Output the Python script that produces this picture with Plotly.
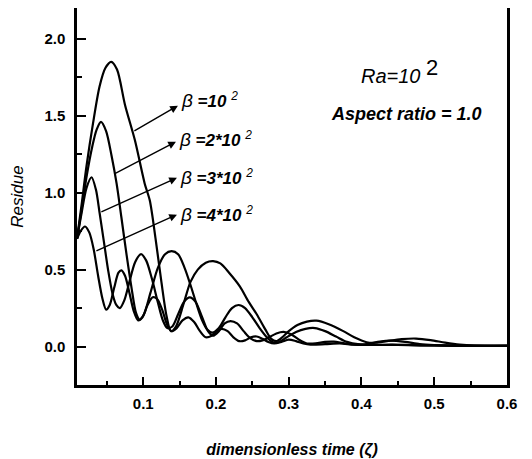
import plotly.graph_objects as go

# ---------------- data ----------------
x_b1 = [0.009, 0.015, 0.022, 0.031, 0.040, 0.048, 0.056, 0.064, 0.075, 0.0886, 0.102, 0.109,
        0.117, 0.125, 0.132, 0.138, 0.145, 0.155, 0.165, 0.175, 0.186, 0.196, 0.206, 0.218,
        0.233, 0.245, 0.256, 0.268, 0.276, 0.283, 0.291, 0.300, 0.312, 0.325, 0.338, 0.355,
        0.375, 0.390, 0.407, 0.420, 0.435, 0.455, 0.475, 0.495, 0.515, 0.535, 0.555, 0.580, 0.600]
y_b1 = [0.70, 0.91, 1.17, 1.45, 1.69, 1.81, 1.85, 1.80, 1.57, 1.34, 1.06, 0.95,
        0.70, 0.42, 0.20, 0.10, 0.13, 0.27, 0.42, 0.50, 0.545, 0.555, 0.54, 0.48,
        0.39, 0.29, 0.21, 0.11, 0.05, 0.035, 0.06, 0.10, 0.14, 0.162, 0.168, 0.145,
        0.10, 0.06, 0.028, 0.025, 0.035, 0.048, 0.052, 0.042, 0.025, 0.012, 0.006, 0.005, 0.006]

x_b2 = [0.009, 0.015, 0.022, 0.030, 0.036, 0.042, 0.049, 0.0565, 0.0634, 0.070, 0.077, 0.084,
        0.090, 0.095, 0.101, 0.110, 0.120, 0.130, 0.139, 0.148, 0.157, 0.165, 0.173, 0.181,
        0.188, 0.195, 0.204, 0.213, 0.222, 0.231, 0.240, 0.250, 0.260, 0.270, 0.279, 0.287,
        0.297, 0.310, 0.323, 0.336, 0.350, 0.365, 0.380, 0.395, 0.410, 0.425, 0.440, 0.460,
        0.480, 0.500, 0.550, 0.600]
y_b2 = [0.70, 0.88, 1.10, 1.30, 1.41, 1.46, 1.40, 1.24, 1.06, 0.84, 0.60, 0.38,
        0.22, 0.175, 0.21, 0.35, 0.51, 0.60, 0.62, 0.60, 0.51, 0.40, 0.28, 0.17,
        0.11, 0.09, 0.12, 0.19, 0.25, 0.27, 0.25, 0.19, 0.12, 0.06, 0.025, 0.03,
        0.06, 0.095, 0.115, 0.12, 0.10, 0.065, 0.03, 0.015, 0.018, 0.032, 0.038, 0.03,
        0.016, 0.01, 0.005, 0.005]

x_b3 = [0.009, 0.015, 0.022, 0.029, 0.035, 0.040, 0.046, 0.052, 0.058, 0.063, 0.068, 0.074,
        0.081, 0.089, 0.097, 0.104, 0.112, 0.120, 0.127, 0.133, 0.140, 0.148, 0.156, 0.164,
        0.172, 0.181, 0.189, 0.196, 0.204, 0.212, 0.220, 0.229, 0.238, 0.247, 0.256, 0.264,
        0.273, 0.283, 0.293, 0.303, 0.314, 0.325, 0.337, 0.350, 0.362, 0.375, 0.390, 0.410,
        0.440, 0.480, 0.540, 0.600]
y_b3 = [0.70, 0.86, 1.03, 1.10, 1.02, 0.87, 0.68, 0.49, 0.34, 0.27, 0.25, 0.30,
        0.42, 0.55, 0.60, 0.56, 0.44, 0.29, 0.17, 0.12, 0.13, 0.21, 0.29, 0.32,
        0.29, 0.19, 0.10, 0.07, 0.10, 0.15, 0.165, 0.15, 0.10, 0.055, 0.035, 0.04,
        0.06, 0.085, 0.095, 0.08, 0.045, 0.02, 0.02, 0.03, 0.032, 0.022, 0.012, 0.01,
        0.012, 0.01, 0.006, 0.005]

x_b4 = [0.009, 0.014, 0.020, 0.026, 0.032, 0.038, 0.044, 0.049, 0.054, 0.060, 0.066, 0.070,
        0.075, 0.081, 0.087, 0.093, 0.099, 0.106, 0.113, 0.119, 0.126, 0.133, 0.139, 0.146,
        0.154, 0.162, 0.170, 0.178, 0.186, 0.194, 0.201, 0.208, 0.216, 0.224, 0.232, 0.240,
        0.248, 0.256, 0.264, 0.272, 0.280, 0.290, 0.300, 0.310, 0.320, 0.330, 0.350, 0.370,
        0.390, 0.420, 0.450, 0.500, 0.600]
y_b4 = [0.70, 0.75, 0.78, 0.74, 0.63, 0.46, 0.31, 0.24, 0.27, 0.38, 0.48, 0.495,
        0.46, 0.35, 0.23, 0.17, 0.19, 0.27, 0.32, 0.31, 0.24, 0.14, 0.10, 0.12,
        0.17, 0.19, 0.16, 0.10, 0.06, 0.07, 0.10, 0.115, 0.10, 0.06, 0.035, 0.04,
        0.06, 0.065, 0.05, 0.03, 0.02, 0.03, 0.045, 0.035, 0.02, 0.012, 0.015, 0.02,
        0.012, 0.01, 0.01, 0.005, 0.005]

series = [(x_b1, y_b1), (x_b2, y_b2), (x_b3, y_b3), (x_b4, y_b4)]

x_ticks = [0.1, 0.2, 0.3, 0.4, 0.5, 0.6]
y_ticks = [0.0, 0.5, 1.0, 1.5, 2.0]

# labels: (text, tail_x, tail_y, head_x, head_y, label_y)
beta_labels = [
    ("=10", 0.0858, 1.396, 0.1477, 1.565, 1.600),
    ("=2*10", 0.0583, 1.117, 0.1450, 1.331, 1.351),
    ("=3*10", 0.0404, 0.870, 0.1464, 1.097, 1.104),
    ("=4*10", 0.0336, 0.617, 0.1464, 0.857, 0.864),
]

FONT = "Liberation Sans, Arial, sans-serif"
BLACK = "black"

fig = go.Figure()
for xs, ys in series:
    fig.add_trace(go.Scatter(x=xs, y=ys, mode="lines",
                             line=dict(color=BLACK, width=2.2, shape="spline", smoothing=0.8),
                             showlegend=False, hoverinfo="skip"))

for txt, tx, ty, hx, hy, ly in beta_labels:
    fig.add_annotation(x=hx, y=hy, ax=tx, ay=ty, xref="x", yref="y", axref="x", ayref="y",
                       text="", showarrow=True, arrowhead=2, arrowsize=1.1, arrowwidth=1.4,
                       arrowcolor=BLACK)
    fig.add_annotation(x=hx + 0.002, y=ly, xref="x", yref="y", xanchor="left", yanchor="middle",
                       showarrow=False,
                       text="<i><span style='font-size:19px'>β</span></i> <b><i>" + txt
                            + "</i></b> <sup><i>2</i></sup>",
                       font=dict(family=FONT, size=17, color=BLACK))

fig.add_annotation(x=0.452, y=1.79, xref="x", yref="y", showarrow=False,
                   text="<i>Ra=10</i> <sup><span style='font-size:22px'>2</span></sup>",
                   font=dict(family=FONT, size=20, color=BLACK))
fig.add_annotation(x=0.462, y=1.51, xref="x", yref="y", showarrow=False,
                   text="<b><i>Aspect ratio = 1.0</i></b>",
                   font=dict(family=FONT, size=18, color=BLACK))

# page body adds an 8px offset, so the figure is 8px smaller and margins shifted
fig.update_layout(
    width=524, height=451,
    margin=dict(l=69, r=25, t=0, b=74, autoexpand=False),
    paper_bgcolor="white", plot_bgcolor="white",
    font=dict(family=FONT, color=BLACK),
)
fig.update_xaxes(
    range=[0.009, 0.6], tickvals=x_ticks, ticktext=[f"{v:.1f}" for v in x_ticks],
    ticks="inside", ticklen=8, tickwidth=2, tickcolor=BLACK,
    minor=dict(ticks="inside", ticklen=4, tickwidth=2, tickcolor=BLACK, dtick=0.05, tick0=0.0),
    showline=True, linewidth=2.5, linecolor=BLACK, mirror=True,
    showgrid=False, zeroline=False, automargin=False,
    tickfont=dict(family=FONT, size=15, weight="bold", color=BLACK),
    ticklabelstandoff=3,
    title=dict(text="<b><i>dimensionless time (ζ)</i></b>",
               font=dict(family=FONT, size=16, color=BLACK), standoff=47),
)
fig.update_yaxes(
    range=[-0.25, 2.2], tickvals=y_ticks, ticktext=[f"{v:.1f}" for v in y_ticks],
    ticks="inside", ticklen=9, tickwidth=2, tickcolor=BLACK,
    minor=dict(ticks="inside", ticklen=5, tickwidth=2, tickcolor=BLACK, dtick=0.25, tick0=0.0),
    showline=True, linewidth=2.5, linecolor=BLACK, mirror=True,
    showgrid=False, zeroline=False, automargin=False,
    tickfont=dict(family=FONT, size=15, weight="bold", color=BLACK),
    ticklabelstandoff=6,
    title=dict(text="<i>Residue</i>", font=dict(family=FONT, size=17, color=BLACK), standoff=18),
)

fig.write_html("out.html")
